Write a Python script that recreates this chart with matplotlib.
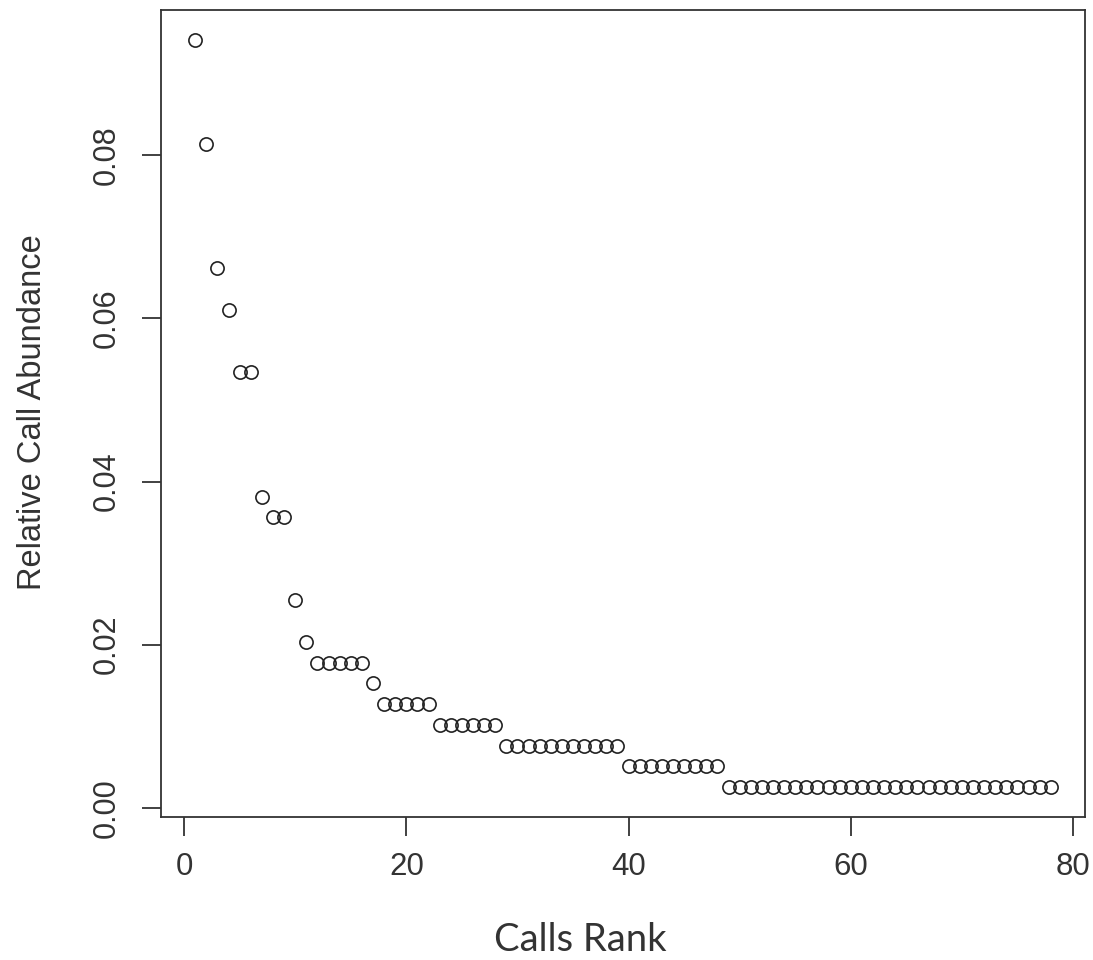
import matplotlib
matplotlib.use("Agg")
import matplotlib.pyplot as plt
import numpy as np

# counts per rank (relative abundance = count / total)
counts = [37, 32, 26, 24, 21, 21, 15, 14, 14, 10, 8,
          7, 7, 7, 7, 7, 6, 5, 5, 5, 5, 5,
          4, 4, 4, 4, 4, 4,
          3, 3, 3, 3, 3, 3, 3, 3, 3, 3, 3,
          2, 2, 2, 2, 2, 2, 2, 2, 2] + [1] * 30
total = 393
ranks = list(range(1, len(counts) + 1))
abundance = [c / total for c in counts]

xticks = [0, 20, 40, 60, 80]
yticks = [0.00, 0.02, 0.04, 0.06, 0.08]
ytick_labels = ["0.00", "0.02", "0.04", "0.06", "0.08"]

W, H = 1093, 960
fig = plt.figure(figsize=(W / 100, H / 100), dpi=100)
ax = fig.add_axes([161 / W, 1 - 817 / H, (1085 - 161) / W, (817 - 10) / H])

ax.plot(ranks, abundance, linestyle="none", marker="o", markersize=9.5,
        markerfacecolor="none", markeredgecolor="#222222", markeredgewidth=1.2)

xr = max(ranks) - min(ranks)
ax.set_xlim(min(ranks) - 0.04 * xr, max(ranks) + 0.04 * xr)
yr = max(abundance) - min(abundance)
ax.set_ylim(min(abundance) - 0.04 * yr, max(abundance) + 0.04 * yr)

ax.set_xticks(xticks)
ax.set_xticklabels([str(v) for v in xticks], fontsize=22.5, family="Liberation Sans", color="#333333")
ax.set_yticks(yticks)
ax.set_yticklabels(ytick_labels, fontsize=22, family="Liberation Sans", color="#333333",
                   rotation=90, va="center")
ax.tick_params(direction="out", length=13.5, width=1.3, color="#333333")
ax.tick_params(axis="x", pad=12)
ax.tick_params(axis="y", pad=15)
for s in ax.spines.values():
    s.set_linewidth(1.3)
    s.set_color("#333333")

fig.text(33 / W, 1 - 412 / H, "Relative Call Abundance", rotation=90, ha="center", va="center",
         fontsize=23.5, family="Liberation Sans", color="#333333")
fig.text(580 / W, 1 - 940 / H, "Calls Rank", ha="center", va="center",
         fontsize=27.5, family="Lato", color="#333333")

fig.savefig("out.png", dpi=100, facecolor="white")
